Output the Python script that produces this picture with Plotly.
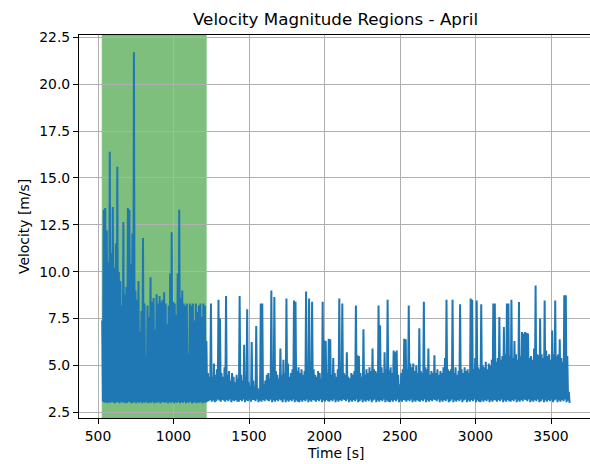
import plotly.graph_objects as go

TITLE = "Velocity Magnitude Regions - April"
X_LABEL = "Time [s]"
Y_LABEL = "Velocity [m/s]"

T_START = 528          # time of the first sample [s]
STEP = 10              # spacing of the tabulated extrema [s]
REGION = (528, 1216)   # highlighted interval [s]

# Local maxima of the velocity magnitude [m/s], one per 10 s, 100 s per row
peak_rows = [
    [7.4, 13.3, 13.4, 12.2, 10.5, 16.4, 11.0, 13.45, 10.2, 11.5],
    [15.6, 10.0, 9.5, 8.2, 12.65, 8.8, 9.2, 13.4, 13.3, 10.4],
    [12.05, 21.7, 9.0, 8.5, 9.5, 6.8, 7.9, 11.8, 8.3, 5.45],
    [8.2, 7.6, 9.7, 8.4, 8.6, 6.9, 8.8, 8.3, 8.7, 8.4],
    [8.5, 8.9, 8.3, 7.2, 8.2, 9.9, 12.1, 8.4, 8.3, 7.7],
    [9.9, 13.3, 8.6, 9.0, 8.3, 8.2, 8.3, 5.6, 8.3, 8.2],
    [8.3, 7.4, 8.3, 7.85, 8.2, 8.3, 7.6, 8.3, 8.2, 6.3],
    [4.6, 4.4, 8.3, 4.4, 5.1, 4.5, 4.8, 8.5, 7.5, 4.6],
    [4.4, 4.9, 8.7, 4.5, 4.7, 4.2, 4.6, 4.4, 4.1, 4.5],
    [4.3, 8.7, 4.5, 4.2, 6.1, 4.4, 8.0, 4.1, 3.9, 6.25],
    [4.2, 3.9, 7.1, 3.8, 3.7, 8.3, 8.3, 4.0, 4.2, 4.5],
    [4.6, 4.3, 9.0, 4.4, 8.65, 4.7, 4.5, 4.3, 5.9, 4.5],
    [5.3, 4.6, 8.57, 5.1, 4.4, 4.6, 4.8, 8.47, 8.4, 4.7],
    [4.9, 4.6, 4.8, 4.5, 4.7, 8.95, 4.9, 8.57, 5.2, 8.4],
    [4.8, 4.5, 4.4, 4.7, 4.6, 4.3, 8.4, 6.35, 6.3, 4.6],
    [6.43, 6.4, 4.5, 5.4, 4.6, 4.4, 4.8, 8.57, 4.7, 8.3],
    [4.6, 4.5, 5.7, 4.4, 4.3, 4.6, 4.5, 4.7, 8.2, 5.54],
    [5.5, 4.6, 4.4, 6.93, 4.5, 4.8, 4.6, 4.9, 4.7, 5.9],
    [4.8, 4.7, 4.6, 8.2, 7.14, 4.9, 4.6, 5.7, 4.8, 8.5],
    [4.74, 4.9, 4.6, 5.8, 5.7, 5.8, 4.5, 4.0, 4.6, 4.8],
    [6.43, 6.4, 4.8, 8.2, 5.1, 4.9, 5.1, 4.7, 5.0, 4.6],
    [6.98, 4.7, 4.6, 8.4, 4.9, 4.8, 5.9, 4.5, 4.7, 4.6],
    [5.54, 4.6, 4.8, 4.5, 4.7, 4.6, 4.9, 5.4, 8.5, 4.8],
    [4.7, 4.8, 8.5, 4.6, 4.9, 4.5, 4.7, 8.26, 4.8, 4.6],
    [4.9, 4.7, 4.8, 4.6, 8.57, 8.5, 4.8, 5.4, 8.47, 4.9],
    [4.8, 8.26, 5.0, 4.9, 5.2, 4.8, 5.1, 5.0, 5.3, 8.3],
    [8.3, 5.2, 5.4, 7.58, 5.3, 5.5, 7.05, 5.6, 8.3, 8.3],
    [5.5, 8.51, 5.4, 6.3, 5.6, 5.3, 8.39, 5.5, 6.78, 6.7],
    [6.78, 6.75, 6.7, 5.4, 5.5, 5.3, 5.9, 9.27, 5.6, 5.54],
    [7.5, 5.6, 5.4, 8.47, 5.8, 5.5, 5.6, 5.3, 6.87, 5.6],
    [8.47, 5.5, 5.6, 6.4, 5.4, 5.2, 8.74, 8.74, 5.5, 3.6],
]

# Local minima between the maxima, digit d stands for 2.98 + 0.03 * d m/s
trough_rows = [
    "3120213102", "2031201320", "1302130213", "0213021302",
    "2130213021", "3021302130", "1302130213", "4635247536",
    "5364725463", "3647254736", "6472536475", "4725364752",
    "7253647253", "2536472536", "5364725364", "3647253647",
    "6472536472", "4725364725", "7253647253", "2536472536",
    "5364725364", "3647253647", "6472536472", "4725364725",
    "7253647253", "2536472536", "5364725364", "3647253647",
    "6472536472", "4725364725", "7253647251",
]

X_TICKS = [500, 1000, 1500, 2000, 2500, 3000, 3500]
Y_TICKS = [2.5, 5.0, 7.5, 10.0, 12.5, 15.0, 17.5, 20.0, 22.5]

peaks = [v for row in peak_rows for v in row]
troughs = [2.98 + 0.03 * int(c) for row in trough_rows for c in row]

time_s, speed = [], []
for i, (hi, lo) in enumerate(zip(peaks, troughs)):
    t0 = T_START + STEP * i
    time_s += [t0, t0 + STEP / 2]
    speed += [hi, lo]

W, H = 590, 464
L, R, T, B = 79, 0, 35, 46
FONT = "DejaVu Sans"

fig = go.Figure()
fig.add_trace(go.Scatter(
    x=time_s, y=speed, mode="lines",
    line=dict(color="#1f77b4", width=2),
    hoverinfo="skip", showlegend=False,
))

fig.add_shape(
    type="rect", xref="x", yref="paper",
    x0=REGION[0], x1=REGION[1], y0=0, y1=1,
    fillcolor="green", opacity=0.5,
    line=dict(color="green", width=1), layer="below",
)

axis_common = dict(
    showgrid=True, gridcolor="#b0b0b0", gridwidth=1.1,
    zeroline=False, showline=True, linecolor="black", linewidth=1.1,
    ticks="outside", ticklen=5, tickwidth=1.1, tickcolor="black",
    tickfont=dict(family=FONT, size=13.9, color="black"),
)

fig.update_layout(
    width=W, height=H,
    margin=dict(l=L, r=R, t=T, b=B, autoexpand=False),
    plot_bgcolor="white", paper_bgcolor="white",
    font=dict(family=FONT, size=13.9, color="black"),
    showlegend=False,
    xaxis=dict(range=[374.2, 3758.3], tickvals=X_TICKS,
               ticktext=[str(v) for v in X_TICKS], mirror=True,
               **axis_common),
    yaxis=dict(range=[2.20, 22.62], tickvals=Y_TICKS,
               ticktext=[f"{v:.1f}" for v in Y_TICKS], mirror=False,
               **axis_common),
)

plot_w = W - L - R
plot_h = H - T - B
axes_cx = (335.9 - L) / plot_w

fig.add_annotation(text=TITLE, xref="paper", yref="paper",
                   x=axes_cx, y=1 + 4 / plot_h, xanchor="center", yanchor="bottom",
                   showarrow=False, font=dict(family=FONT, size=16.7, color="black"))
fig.add_annotation(text=X_LABEL, xref="paper", yref="paper",
                   x=axes_cx, y=-(453.0 - (H - B)) / plot_h, xanchor="center", yanchor="middle",
                   showarrow=False, font=dict(family=FONT, size=13.9, color="black"))
fig.add_annotation(text=Y_LABEL, xref="paper", yref="paper", textangle=-90,
                   x=(23.5 - L) / plot_w, y=0.5, xanchor="center", yanchor="middle",
                   showarrow=False, font=dict(family=FONT, size=13.9, color="black"))

fig.write_html("out.html")
